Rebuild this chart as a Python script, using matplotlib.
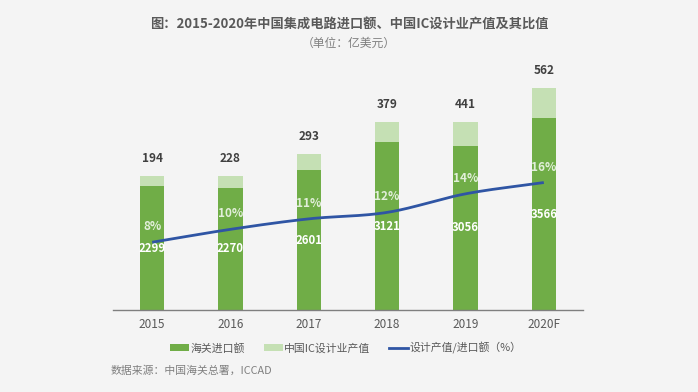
import matplotlib
matplotlib.use("Agg")
import matplotlib.pyplot as plt
from matplotlib.patches import Patch
from matplotlib.lines import Line2D
import numpy as np

plt.rcParams['font.family'] = ['Noto Sans CJK SC', 'DejaVu Sans']

years = ["2015", "2016", "2017", "2018", "2019", "2020F"]
import_value = [2299, 2270, 2601, 3121, 3056, 3566]
design_value = [194, 228, 293, 379, 441, 562]
ratio_pct = [8.4, 10.0, 11.3, 12.1, 14.4, 15.8]
ratio_labels = ["8%", "10%", "11%", "12%", "14%", "16%"]

title = "图：2015-2020年中国集成电路进口额、中国IC设计业产值及其比值"
subtitle = "（单位：亿美元）"
legend_labels = ["海关进口额", "中国IC设计业产值", "设计产值/进口额（%）"]
source = "数据来源：中国海关总署，ICCAD"

BG = "#F4F4F4"
DARK = "#70AD47"
LIGHT = "#C5E0B4"
BLUE = "#2F55A4"

fig = plt.figure(figsize=(6.98, 3.92), dpi=100, facecolor=BG)
ax = fig.add_axes([113/698, (392-310)/392, (583-113)/698, (310-68)/392])
ax.set_facecolor(BG)
x = np.arange(len(years))
w = 0.31
ax.bar(x, import_value, width=w, color=DARK, zorder=2)
ax.bar(x, design_value, width=w, bottom=import_value, color=LIGHT, zorder=2)
ax.set_xlim(-0.5, len(years) - 0.5)
ax.set_ylim(0, 4500)
for s in ["top", "right", "left"]:
    ax.spines[s].set_visible(False)
ax.spines["bottom"].set_color("#7F7F7F")
ax.spines["bottom"].set_linewidth(1.0)
ax.set_yticks([])
ax.set_xticks(x)
ax.set_xticklabels(years, fontsize=8.5, color="#595959")
ax.tick_params(axis="x", length=0, pad=6)

for xi, iv, dv in zip(x, import_value, design_value):
    ax.text(xi, iv / 2, str(iv), ha="center", va="center", color="white",
            fontsize=8.2, fontweight="bold", zorder=5)
    ax.annotate(str(dv), (xi, iv + dv), xytext=(0, 8), textcoords="offset points",
                ha="center", va="bottom", color="#404040", fontsize=8.5, fontweight="bold")

ax2 = ax.twinx()
ax2.set_ylim(0, 30)
ax2.set_axis_off()

# smooth (Catmull-Rom) rendering of the ratio line
def catmull_rom(xs, ys, n=30):
    xs = np.asarray(xs, float); ys = np.asarray(ys, float)
    px = np.concatenate([[2*xs[0]-xs[1]], xs, [2*xs[-1]-xs[-2]]])
    py = np.concatenate([[2*ys[0]-ys[1]], ys, [2*ys[-1]-ys[-2]]])
    ox, oy = [], []
    for i in range(1, len(px) - 2):
        t = np.linspace(0, 1, n, endpoint=(i == len(px) - 3))
        t2, t3 = t*t, t*t*t
        for p, o in ((px, ox), (py, oy)):
            p0, p1, p2, p3 = p[i-1], p[i], p[i+1], p[i+2]
            o.extend(0.5*((2*p1) + (-p0+p2)*t + (2*p0-5*p1+4*p2-p3)*t2 + (-p0+3*p1-3*p2+p3)*t3))
    return np.array(ox), np.array(oy)

sx, sy = catmull_rom(x, ratio_pct)
ax2.plot(sx, sy, color=BLUE, lw=2.0, zorder=4, solid_capstyle="butt")
for xi, r, lab in zip(x, ratio_pct, ratio_labels):
    ax2.annotate(lab, (xi, r), xytext=(0, 6.5), textcoords="offset points",
                 ha="center", va="bottom", color="#E2EFDA", fontsize=8.5, fontweight="semibold", zorder=6)

fig.text(0.5, 1 - 24/392, title, ha="center", va="center", fontsize=9.5,
         fontweight="bold", color="#595959")
fig.text(0.5, 1 - 43/392, subtitle, ha="center", va="center", fontsize=8.5, color="#7F7F7F")

handles = [Patch(facecolor=DARK, edgecolor="none"),
           Patch(facecolor=LIGHT, edgecolor="none"),
           Line2D([0], [0], color=BLUE, lw=2)]
fig.legend(handles, legend_labels, loc="center", bbox_to_anchor=(346/698, 1 - 348/392),
           ncol=3, frameon=False, fontsize=7.8, handlelength=1.75, handleheight=0.55,
           handletextpad=0.15, columnspacing=1.7, labelcolor="#595959")

fig.text(111/698, 1 - 371/392, source, ha="left", va="center", fontsize=7.8, color="#7F7F7F")

fig.savefig("out.png", dpi=100, facecolor=BG)
